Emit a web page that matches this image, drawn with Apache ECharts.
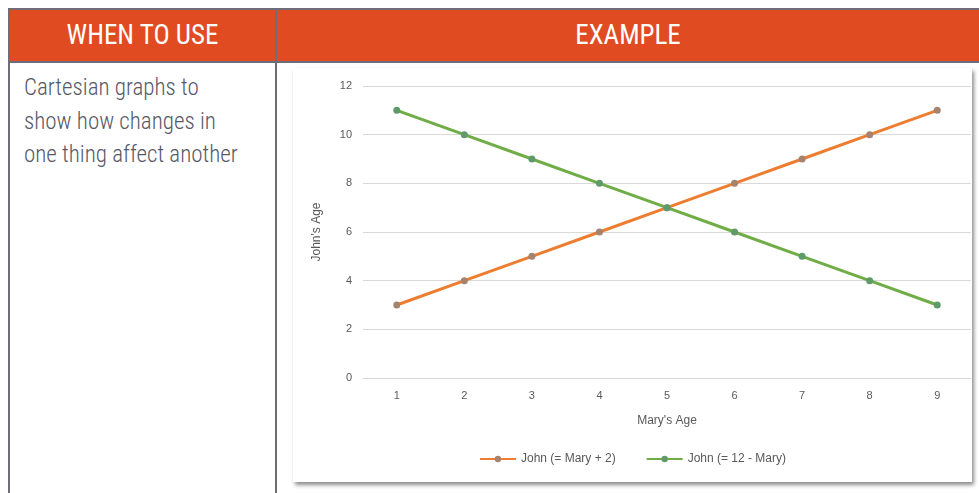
<!DOCTYPE html>
<html>
<head>
<meta charset="utf-8">
<script src="https://cdn.jsdelivr.net/npm/echarts@6/dist/echarts.min.js"></script>
<style>
  html, body { margin: 0; padding: 0; background: #fff; width: 979px; height: 493px; overflow: hidden; }
  .tbl { position: absolute; left: 8px; top: 8px; width: 980px; height: 500px; border-left: 2px solid #6e6e7a; border-top: 2px solid #6e6e7a; box-sizing: border-box; }
  .head { position: absolute; left: 0; top: 0; width: 100%; height: 51px; background: #e04b22; border-bottom: 2px solid #6e6e7a; }
  .head div { position: absolute; top: 0; height: 51px; line-height: 51px; text-align: center; color: #fff;
    font-family: "Liberation Sans Narrow", "Roboto Condensed", Roboto, sans-serif; font-size: 27px; font-weight: 400; }
  .divider { position: absolute; left: 265px; top: 0; width: 2px; height: 100%; background: #6e6e7a; }
  .txt { position: absolute; left: 14px; top: 61px; color: #575967; font-family: "Liberation Sans Narrow", "Roboto Condensed", Roboto, sans-serif;
    font-size: 23px; line-height: 33.5px; font-weight: 300; }
  #chart { position: absolute; left: 293px; top: 68px; width: 679px; height: 414px; background: #fff;
    box-shadow: 2px 3px 4px rgba(0,0,0,0.45); }
</style>
</head>
<body>
<div class="tbl">
  <div class="head">
    <div style="left:0;width:265px">WHEN TO USE</div>
    <div style="left:267px;width:702px">EXAMPLE</div>
  </div>
  <div class="divider"></div>
  <div class="txt">Cartesian graphs to<br>show how changes in<br>one thing affect another</div>
</div>
<div id="chart"></div>
<script>
const maryAge = ['1', '2', '3', '4', '5', '6', '7', '8', '9']
const johnPlus = [3, 4, 5, 6, 7, 8, 9, 10, 11]
const johnMinus = [11, 10, 9, 8, 7, 6, 5, 4, 3]
const seriesNames = ['John (= Mary + 2)', 'John (= 12 - Mary)']

const myChart = echarts.init(document.getElementById('chart'))
const axisText = { color: '#595959', fontSize: 11, fontFamily: 'Liberation Sans, sans-serif' }

myChart.setOption({
  animation: false,
  grid: { left: 70, right: 1, top: 18, bottom: 104 },
  legend: {
    bottom: 12,
    left: 'center',
    itemWidth: 36,
    itemHeight: 8,
    itemGap: 30,
    textStyle: { color: '#595959', fontSize: 12, fontFamily: 'Liberation Sans, sans-serif' },
    data: seriesNames
  },
  xAxis: {
    type: 'category',
    data: maryAge,
    name: "Mary's Age",
    nameLocation: 'middle',
    nameGap: 37,
    nameTextStyle: { color: '#595959', fontSize: 12, fontFamily: 'Liberation Sans, sans-serif' },
    axisLine: { lineStyle: { color: '#d9d9d9' } },
    axisTick: { show: false },
    axisLabel: Object.assign({ margin: 12 }, axisText)
  },
  yAxis: {
    type: 'value',
    min: 0,
    max: 12,
    interval: 2,
    name: "John's Age",
    nameLocation: 'middle',
    nameGap: 40,
    nameTextStyle: { color: '#595959', fontSize: 12, fontFamily: 'Liberation Sans, sans-serif' },
    axisLine: { show: false },
    axisTick: { show: false },
    splitLine: { lineStyle: { color: '#d9d9d9' } },
    axisLabel: Object.assign({ margin: 11 }, axisText)
  },
  series: [
    {
      name: seriesNames[0],
      type: 'line',
      data: johnPlus,
      symbol: 'circle',
      symbolSize: 7,
      lineStyle: { color: '#ed7d31', width: 3 },
      itemStyle: { color: '#a5836f' }
    },
    {
      name: seriesNames[1],
      type: 'line',
      data: johnMinus,
      symbol: 'circle',
      symbolSize: 7,
      lineStyle: { color: '#70ad47', width: 3 },
      itemStyle: { color: '#5f9a6a' }
    }
  ]
})
</script>
</body>
</html>
